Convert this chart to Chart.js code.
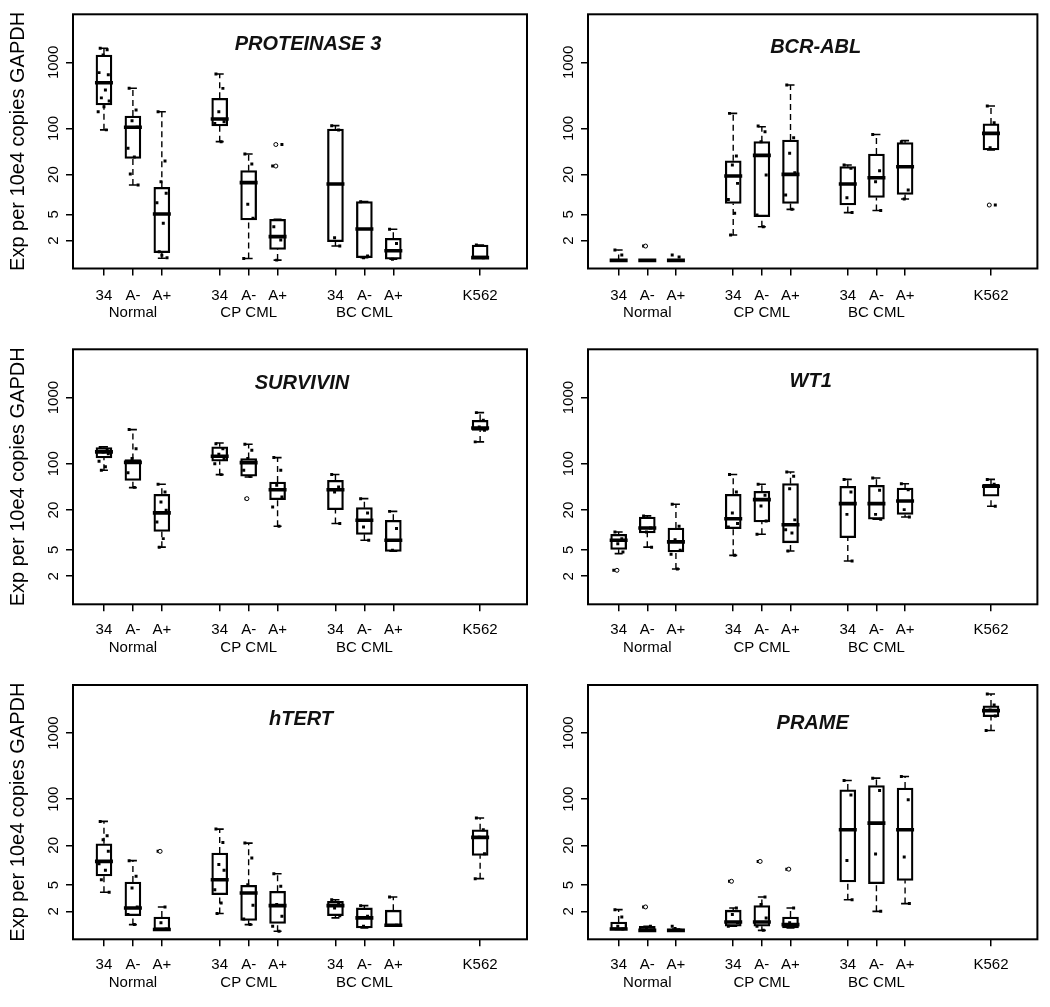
<!DOCTYPE html>
<html><head><meta charset="utf-8">
<script src="https://cdn.jsdelivr.net/npm/chart.js@4.4.1/dist/chart.umd.min.js"></script>
<style>
html,body{margin:0;padding:0;background:#fff;}
#wrap{position:relative;width:1050px;height:1007px;overflow:hidden;}
.cell{position:absolute;}
.cell canvas{display:block;}
</style></head><body>
<div id="wrap"></div>
<script>
// ---------- shared axes ----------
const POSITIONS = [1, 2, 3, 5, 6, 7, 9, 10, 11, 14];
const TICK_LABELS = [['34'], ['A-', 'Normal'], ['A+'], ['34'], ['A-', 'CP CML'], ['A+'], ['34'], ['A-', 'BC CML'], ['A+'], ['K562']];
const Y_TICKS = [2, 5, 20, 100, 1000];
const Y_TITLE = 'Exp per 10e4 copies GAPDH';
const Y_MIN = 0.754, Y_MAX = 5355;
const X_MIN = -0.07, X_MAX = 15.62;

// ---------- PROTEINASE 3 ----------
const PR3_HI  = [1636, 405, 179, 667, 41, 4.19, 110, 7.76, 2.96, 1.71];
const PR3_Q3  = [1294, 154, 12.8, 286, 22.9, 4.19, 98, 7.76, 2.16, 1.71];
const PR3_MED = [492, 104, 5.05, 139, 15.1, 2.29, 14.4, 2.99, 1.4, 1.1];
const PR3_Q1  = [226, 35, 1.31, 109, 4.1, 1.47, 1.92, 1.1, 1.04, 1.1];
const PR3_LO  = [95, 13.9, 1.08, 63, 1.07, 1.01, 1.65, 1.1, 1.04, 1.1];
const PR3_PTS = [[1636, 1560, 1300, 650, 700, 382, 290, 260, 213, 179, 95], [405, 190, 131, 104, 50, 37, 20.4, 13.9],
  [179, 32, 15.6, 10.4, 7.5, 3.65, 1.35, 1.1, 1.2], [667, 404, 179, 126, 119, 63], [41, 28.9, 7.07, 4.34, 1.07],
  [3.24, 2.04, 1.01, 57, 26.9], [110, 94.6, 2.21, 1.65], [7.76, 1.17, 1.1], [2.96, 1.81, 1.04], [1.71, 1.1]];
const PR3_OUT = [[], [], [], [], [], [57, 26.9], [], [], [], []];

// ---------- BCR-ABL ----------
const BCR_HI  = [1.44, 1.0, 1.0, 169, 106, 455, 27.9, 81, 65.2, 218];
const BCR_Q3  = [1.0, 1.0, 1.0, 32.4, 63, 66.7, 26.3, 41, 60.8, 117];
const BCR_MED = [1.0, 1.0, 1.0, 19, 39, 20.1, 14.4, 17.9, 26.3, 84];
const BCR_Q1  = [1.0, 1.0, 1.0, 7.3, 4.6, 7.3, 6.9, 9.0, 10.0, 47];
const BCR_LO  = [1.0, 1.0, 1.0, 2.43, 3.24, 5.94, 5.3, 5.7, 8.5, 47];
const BCR_PTS = [[1.44, 1.21, 1.0, 1.0, 1.0, 1.0, 1.0], [1.65, 1.0, 1.0, 1.0, 1.0, 1.0], [1.21, 1.13, 1.0, 1.0, 1.0, 1.0],
  [169, 38.2, 27.9, 14.7, 8.4, 5.2, 2.43], [109, 89, 63, 19.7, 4.87, 3.24], [455, 72, 41.9, 21.3, 9.8, 5.94],
  [27.9, 24.8, 8.9, 5.3], [81, 22.9, 15.6, 5.7], [63, 11.7, 8.5], [218, 122, 51, 6.9]];
const BCR_OUT = [[], [1.65], [], [], [], [], [], [], [], [6.9]];

// ---------- SURVIVIN ----------
const SUR_HI  = [180, 328, 49, 206, 197, 124, 69, 29.7, 19.1, 592];
const SUR_Q3  = [176, 116, 34.6, 180, 120, 53, 56, 21.7, 14, 453];
const SUR_MED = [151, 105, 18.1, 130, 104, 40.6, 40.6, 14, 7.0, 347];
const SUR_Q1  = [122, 56, 9.5, 109, 64.7, 28.7, 20.3, 8.6, 4.76, 320];
const SUR_LO  = [80, 43.6, 5.5, 68.5, 63, 11.4, 12.5, 7.0, 4.76, 214];
const SUR_PTS = [[176, 160, 151, 142, 109, 90, 80], [328, 169, 120, 105, 73, 44], [49, 37.5, 26.5, 19.8, 13.2, 7.4, 5.5],
  [201, 169, 139, 120, 100, 68.5], [197, 160, 120, 104, 80, 64, 29.7], [124, 80, 47.3, 31.5, 22.3, 11.4],
  [69, 44.6, 37.5, 12.5], [29.7, 18.1, 11.1, 7.0], [19.1, 10.5, 4.93], [592, 453, 360, 320, 214]];
const SUR_OUT = [[], [], [], [], [29.7], [], [], [], [], []];

// ---------- WT1 ----------
const WT1_HI  = [9.3, 16.3, 24.4, 69, 49, 75, 58, 61, 50, 58];
const WT1_Q3  = [8.6, 15.7, 10.7, 34.6, 38.4, 50, 45.7, 47.3, 43, 49];
const WT1_MED = [7.0, 10.7, 6.6, 14.8, 28.7, 12, 25, 25, 27.4, 45.7];
const WT1_Q1  = [5.1, 9.0, 4.65, 10.5, 13.2, 6.4, 7.66, 14.5, 17.2, 32.3];
const WT1_LO  = [4.39, 5.5, 2.58, 4.14, 8.6, 4.82, 3.4, 14.5, 15.7, 22.8];
const WT1_PTS = [[9.3, 7.4, 6.2, 4.65, 2.46], [16.3, 10.7, 9.3, 5.5], [24.4, 11.4, 7.1, 4.93, 4.3, 2.58],
  [69, 37.5, 18.1, 12.5, 11.1, 4.14], [49, 33.4, 23.1, 13.7, 8.6], [75, 64.7, 42, 14.2, 10.1, 9.0, 4.82],
  [58, 37.5, 17.2, 3.4], [61, 39.7, 17.2, 14.5], [50, 40.6, 20.3, 15.7], [58, 49, 45.7, 22.8]];
const WT1_OUT = [[2.46], [], [], [], [], [], [], [], [], []];

// ---------- hTERT ----------
const HTE_HI  = [46, 11.7, 2.33, 35.2, 21.6, 7.4, 3.0, 2.44, 3.3, 51.7];
const HTE_Q3  = [21.1, 5.56, 1.64, 15.3, 4.95, 4.02, 2.84, 2.25, 2.08, 34.4];
const HTE_MED = [11.4, 2.25, 1.06, 6.0, 3.79, 2.44, 2.44, 1.59, 1.23, 26.4];
const HTE_Q1  = [6.9, 1.72, 1.06, 3.58, 1.46, 1.31, 1.72, 1.12, 1.19, 14.1];
const HTE_LO  = [3.88, 1.26, 1.06, 1.85, 1.26, 1.0, 1.59, 1.12, 1.19, 6.25];
const HTE_PTS = [[46, 27.9, 24.3, 16.2, 10.5, 8.4, 6.0, 3.88], [11.7, 6.8, 4.5, 2.33, 1.79, 1.26], [16.2, 2.33, 1.34, 1.08],
  [35.2, 22.1, 10.2, 8.4, 4.26, 2.68, 1.85], [21.6, 12.8, 5.07, 2.47, 1.53, 1.26], [7.4, 4.79, 2.53, 1.68, 1.19, 1.0],
  [3.0, 2.53, 2.25, 1.72], [2.44, 1.68, 1.19], [3.3, 1.23], [51.7, 34.4, 26.4, 14.9, 6.25]];
const HTE_OUT = [[], [], [16.2], [], [], [], [], [], [], []];

// ---------- PRAME ----------
const PRA_HI  = [2.12, 1.19, 1.08, 2.25, 3.3, 2.25, 192, 208, 220, 3918];
const PRA_Q3  = [1.38, 1.19, 1.08, 2.08, 2.44, 1.64, 138, 161, 147, 2582];
const PRA_MED = [1.08, 1.03, 1.03, 1.38, 1.38, 1.26, 34.4, 43.4, 34.4, 2193];
const PRA_Q1  = [1.06, 1.03, 1.03, 1.19, 1.19, 1.12, 5.56, 5.25, 5.9, 1778];
const PRA_LO  = [1.06, 1.03, 1.03, 1.19, 1.03, 1.12, 3.0, 2.0, 2.62, 1094];
const PRA_PTS = [[2.12, 1.64, 1.19, 1.08], [2.33, 1.19, 1.12, 1.03, 1.03], [1.19, 1.03, 1.1, 1.03],
  [5.7, 2.25, 1.79, 1.34, 1.19], [11.4, 3.3, 2.53, 1.59, 1.19, 1.03], [8.7, 2.25, 1.34, 1.19],
  [192, 116, 11.8, 3.0], [208, 135, 14.8, 2.0], [220, 98, 13.3, 2.62], [3918, 2673, 2244, 1820, 1094]];
const PRA_OUT = [[], [2.33], [], [5.7], [11.4], [8.7], [], [], [], []];

// ---------- layout / style ----------
const JITTER = [-0.13, 0.11, -0.03, 0.15, -0.17, 0.05, -0.09, 0.18, 0.0, -0.2, 0.08];
const ROWS = [
  {top: 0,   h: 330, padT: 14.3, axisH: 61.5, xPad: 11.2},
  {top: 330, h: 330, padT: 19.3, axisH: 55.7, xPad: 9.8},
  {top: 660, h: 347, padT: 25,   axisH: 67.7, xPad: 9.8}
];
const COLS = [
  {left: 0,   w: 540, axisW: 73, padR: 13},
  {left: 540, w: 510, axisW: 48, padR: 12}
];
const PANELS = [
  {title: 'PROTEINASE 3', hi: PR3_HI, q3: PR3_Q3, med: PR3_MED, q1: PR3_Q1, lo: PR3_LO, pts: PR3_PTS, out: PR3_OUT, row: 0, col: 0, tdx: 8, tdy: 28.5},
  {title: 'BCR-ABL', hi: BCR_HI, q3: BCR_Q3, med: BCR_MED, q1: BCR_Q1, lo: BCR_LO, pts: BCR_PTS, out: BCR_OUT, row: 0, col: 1, tdx: 3, tdy: 31.5},
  {title: 'SURVIVIN', hi: SUR_HI, q3: SUR_Q3, med: SUR_MED, q1: SUR_Q1, lo: SUR_LO, pts: SUR_PTS, out: SUR_OUT, row: 1, col: 0, tdx: 2, tdy: 32.8},
  {title: 'WT1', hi: WT1_HI, q3: WT1_Q3, med: WT1_MED, q1: WT1_Q1, lo: WT1_LO, pts: WT1_PTS, out: WT1_OUT, row: 1, col: 1, tdx: -2, tdy: 30.7},
  {title: 'hTERT', hi: HTE_HI, q3: HTE_Q3, med: HTE_MED, q1: HTE_Q1, lo: HTE_LO, pts: HTE_PTS, out: HTE_OUT, row: 2, col: 0, tdx: 1, tdy: 33},
  {title: 'PRAME', hi: PRA_HI, q3: PRA_Q3, med: PRA_MED, q1: PRA_Q1, lo: PRA_LO, pts: PRA_PTS, out: PRA_OUT, row: 2, col: 1, tdx: 0, tdy: 36.7}
];

Chart.defaults.font.family = "'Liberation Sans', Arial, Helvetica, sans-serif";
Chart.defaults.color = '#000';

const framePlugin = {
  id: 'frameAndTitle',
  afterDatasetsDraw(chart, args, opts) {
    const {ctx, chartArea: a} = chart;
    ctx.save();
    ctx.strokeStyle = '#000';
    ctx.lineWidth = 2;
    ctx.strokeRect(a.left, a.top, a.right - a.left, a.bottom - a.top);
    ctx.font = "italic bold 20px 'Liberation Sans', Arial, sans-serif";
    ctx.fillStyle = '#111';
    ctx.textAlign = 'center';
    ctx.textBaseline = 'alphabetic';
    ctx.fillText(opts.text, (a.left + a.right) / 2 + opts.dx, a.top + opts.dy + 7.2);
    ctx.restore();
  }
};

function buildPanel(p) {
  const row = ROWS[p.row], col = COLS[p.col];
  const cell = document.createElement('div');
  cell.className = 'cell';
  cell.style.left = col.left + 'px';
  cell.style.top = row.top + 'px';
  const cv = document.createElement('canvas');
  cv.width = col.w; cv.height = row.h;
  cv.style.width = col.w + 'px'; cv.style.height = row.h + 'px';
  cell.appendChild(cv);
  document.getElementById('wrap').appendChild(cell);

  const boxes = POSITIONS.map((x, i) => ({x: x, y: [p.q1[i], p.q3[i]]}));
  const whiskers = [];
  POSITIONS.forEach((x, i) => {
    if (p.hi[i] > p.q3[i]) whiskers.push({x: x, y: p.q3[i]}, {x: x, y: p.hi[i]}, {x: x, y: null});
    if (p.lo[i] < p.q1[i]) whiskers.push({x: x, y: p.lo[i]}, {x: x, y: p.q1[i]}, {x: x, y: null});
  });
  const staples = [];
  POSITIONS.forEach((x, i) => { staples.push({x: x, y: p.hi[i]}, {x: x, y: p.lo[i]}); });
  const medians = POSITIONS.map((x, i) => ({x: x, y: p.med[i]}));
  const points = [];
  POSITIONS.forEach((x, i) => p.pts[i].forEach((v, j) => points.push({x: x + JITTER[j % JITTER.length], y: v})));
  const outliers = [];
  POSITIONS.forEach((x, i) => p.out[i].forEach(v => outliers.push({x: x - 0.06, y: v})));

  const gridOpts = {display: true, drawOnChartArea: false, drawTicks: true, tickLength: 7, color: '#000', lineWidth: 1.5, offset: false};

  new Chart(cv, {
    type: 'scatter',
    data: {
      datasets: [
        {type: 'bar', data: boxes, barThickness: 16, borderWidth: 1.6, borderColor: '#000',
         backgroundColor: 'rgba(255,255,255,0)', borderSkipped: false, grouped: false, order: 6},
        {type: 'line', data: whiskers, borderColor: '#000', borderWidth: 1.4, borderDash: [6, 4],
         pointRadius: 0, spanGaps: false, fill: false, tension: 0, order: 5},
        {type: 'scatter', data: staples, pointStyle: 'line', pointRadius: 4, pointBorderWidth: 1.6,
         borderColor: '#000', order: 4},
        {type: 'scatter', data: medians, pointStyle: 'line', pointRadius: 9, pointBorderWidth: 3.6,
         borderColor: '#000', order: 3},
        {type: 'scatter', data: points, pointStyle: 'rect', pointRadius: 2.1, pointBorderWidth: 0,
         backgroundColor: '#000', borderColor: '#000', order: 2},
        {type: 'scatter', data: outliers, pointStyle: 'circle', pointRadius: 2, pointBorderWidth: 1,
         backgroundColor: '#fff', borderColor: '#000', order: 1}
      ]
    },
    options: {
      responsive: false,
      animation: false,
      events: [],
      devicePixelRatio: 1,
      layout: {padding: {left: 0, right: col.padR, top: row.padT, bottom: 0}},
      plugins: {
        legend: {display: false},
        tooltip: {enabled: false},
        frameAndTitle: {text: p.title, dx: p.tdx, dy: p.tdy}
      },
      scales: {
        x: {
          type: 'linear', min: X_MIN, max: X_MAX, offset: false,
          afterBuildTicks: s => { s.ticks = POSITIONS.map(v => ({value: v})); },
          afterFit: s => { s.height = row.axisH; },
          grid: gridOpts,
          border: {display: false},
          ticks: {autoSkip: false, maxRotation: 0, minRotation: 0, padding: row.xPad, color: '#000',
                  font: {size: 15, lineHeight: 1.17},
                  callback: (v, i) => TICK_LABELS[i]}
        },
        y: {
          type: 'logarithmic', min: Y_MIN, max: Y_MAX,
          afterBuildTicks: s => { s.ticks = Y_TICKS.map(v => ({value: v})); },
          afterFit: s => { s.width = col.axisW; },
          grid: gridOpts,
          border: {display: false},
          ticks: {autoSkip: false, minRotation: 90, maxRotation: 90, crossAlign: 'center', padding: -4.7,
                  color: '#000', font: {size: 15},
                  callback: (v, i) => String(Y_TICKS[i])},
          title: {display: p.col === 0, text: Y_TITLE, color: '#000', font: {size: 20}, padding: {top: 6.3, bottom: 0}}
        }
      }
    },
    plugins: [framePlugin]
  });
}

PANELS.forEach(buildPanel);
</script>
</body></html>
